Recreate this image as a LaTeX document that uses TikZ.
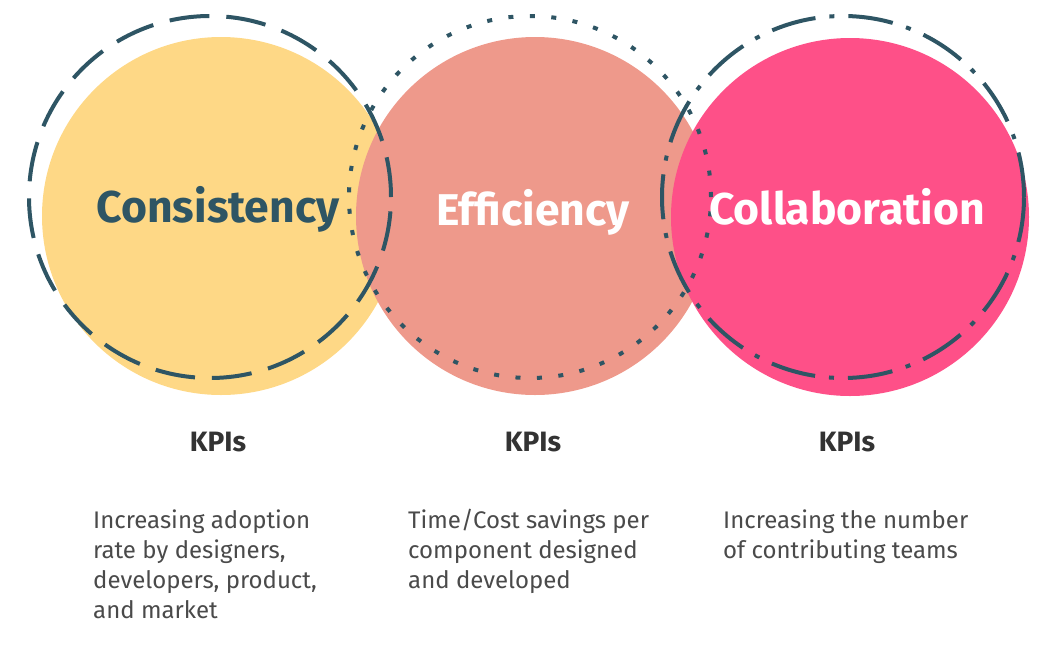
\documentclass[tikz,border=0pt]{standalone}
\usepackage{fontspec}
\setmainfont{Fira Sans}
\definecolor{consc}{HTML}{FED886}
\definecolor{effc}{HTML}{EE998B}
\definecolor{collc}{HTML}{FE5088}
\definecolor{ringc}{HTML}{2E5564}
\definecolor{kpic}{HTML}{333333}
\definecolor{bodyc}{HTML}{4A4A4A}

\begin{document}
\begin{tikzpicture}[
  x=1pt, y=-1pt,
  disc/.style={circle, inner sep=0pt, minimum size=358pt},
  ring/.style={circle, draw=ringc, line width=4pt, inner sep=0pt,
               minimum size=362pt},
  ringdash/.style={ring, dash pattern=on 40pt off 17pt},
  ringdot/.style={ring, dash pattern=on 5pt off 16.5pt},
  ringdashdot/.style={ring, dash pattern=on 45pt off 14pt on 5pt off 14pt},
  title/.style={anchor=base, inner sep=0pt, font=\bfseries\fontsize{44.5}{52}\selectfont},
  kpi/.style={anchor=base, inner sep=0pt, text=kpic,
              font=\bfseries\fontsize{28}{32}\selectfont},
  desc/.style={anchor=base west, inner sep=0pt, align=left, text=bodyc,
               font=\fontsize{24}{30}\selectfont},
]
\useasboundingbox (0,0) rectangle (1050,649);

% ---- filled discs ----
\node[disc, fill=consc] (consdisc) at (221,216) {};
\node[disc, fill=effc]  (effdisc)  at (535,216) {};
\node[disc, fill=collc] (colldisc) at (850,217) {};

% ---- outline rings ----
\node[ringdash]    (consring) at (210,197) {};
\node[ringdot]     (effring)  at (530,197) {};
\node[ringdashdot] (collring) at (843,197) {};

% ---- titles ----
\node[title, text=ringc] (constitle) at (218,222) {Consistency};
\node[title, text=white] (efftitle)  at (533,225) {Efficiency};
\node[title, text=white] (colltitle) at (847,224) {Collaboration};

% ---- KPI headings ----
\node[kpi] (conskpi) at (218,451) {KPIs};
\node[kpi] (effkpi)  at (533,451) {KPIs};
\node[kpi] (collkpi) at (847,451) {KPIs};

% ---- KPI text (anchored at last baseline) ----
\node[desc] (consdesc) at (93,618)
  {Increasing adoption\\rate by designers,\\developers, product,\\and market};
\node[desc] (effdesc) at (408,588)
  {Time/Cost savings per\\component designed\\and developed};
\node[desc] (colldesc) at (723,558)
  {Increasing the number\\of contributing teams};
\end{tikzpicture}
\end{document}
